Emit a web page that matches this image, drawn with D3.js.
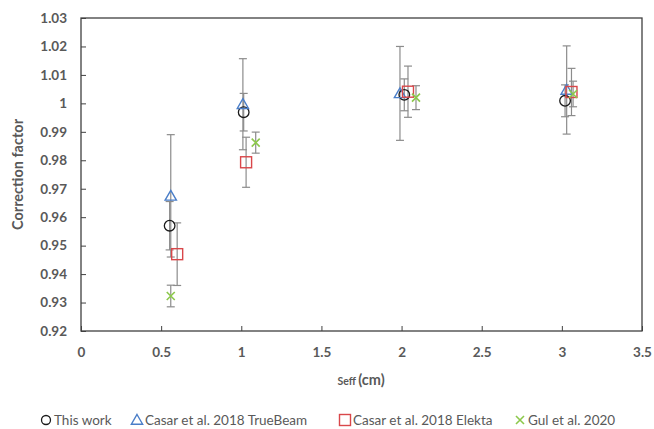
<!DOCTYPE html>
<html>
<head>
<meta charset="utf-8">
<script src="https://cdn.jsdelivr.net/npm/d3@7"></script>
<style>
  body { margin: 0; background: #fff; overflow: hidden; }
  svg { display: block; }
  text { font-family: Lato, "Open Sans", sans-serif; }
</style>
</head>
<body>
<svg id="chart" width="654" height="429"></svg>
<script>
// series data: x (Seff, cm), y (correction factor), e (± error)
var seriesNames = ["This work", "Casar et al. 2018 TrueBeam", "Casar et al. 2018 Elekta", "Gul et al. 2020"];
var thisWork  = [{x: 0.553, y: 0.957,  e: 0.0085}, {x: 1.015, y: 0.9969, e: 0.0066}, {x: 2.017, y: 1.003,  e: 0.0056}, {x: 3.02, y: 1.0009, e: 0.0056}];
var trueBeam  = [{x: 0.56,  y: 0.9675, e: 0.0215}, {x: 1.01,  y: 0.9997, e: 0.016},  {x: 1.99,  y: 1.0035, e: 0.0165}, {x: 3.03, y: 1.0047, e: 0.0155}];
var elekta    = [{x: 0.60,  y: 0.9470, e: 0.011},  {x: 1.03,  y: 0.9793, e: 0.0088}, {x: 2.04,  y: 1.0041, e: 0.009},  {x: 3.06, y: 1.0040, e: 0.0083}];
var gul       = [{x: 0.56,  y: 0.9323, e: 0.0038}, {x: 1.09,  y: 0.9862, e: 0.0037}, {x: 2.09,  y: 1.0020, e: 0.0042}, {x: 3.07, y: 1.0033, e: 0.0045}];
var xTicks = [0, 0.5, 1, 1.5, 2, 2.5, 3, 3.5];
var yTicks = [0.92, 0.93, 0.94, 0.95, 0.96, 0.97, 0.98, 0.99, 1, 1.01, 1.02, 1.03];

var svg = d3.select("#chart");
var pLeft = 81, pRight = 642, pTop = 18, pBottom = 331;
var x = d3.scaleLinear().domain([0, 3.5]).range([pLeft, pRight]);
var y = d3.scaleLinear().domain([0.92, 1.03]).range([pBottom, pTop]);
var grey = "#595959";

// frame
svg.append("rect").attr("x", pLeft).attr("y", pTop)
  .attr("width", pRight - pLeft).attr("height", pBottom - pTop)
  .attr("fill", "none").attr("stroke", "#404040").attr("stroke-width", 1.3);

// axes with inward ticks
var yAxis = svg.append("g").attr("transform", "translate(" + pLeft + ",0)")
  .call(d3.axisLeft(y).tickValues(yTicks).tickSize(-5).tickPadding(14)
    .tickFormat(function(d) { return String(+d.toFixed(2)); }));
var xAxis = svg.append("g").attr("transform", "translate(0," + pBottom + ")")
  .call(d3.axisBottom(x).tickValues(xTicks).tickSize(-5).tickPadding(16).tickFormat(d3.format("")));
[yAxis, xAxis].forEach(function(g) {
  g.select(".domain").remove();
  g.selectAll("line").attr("stroke", "#404040");
  g.selectAll("text").attr("fill", grey).style("font-size", "13.5px").style("font-weight", "bold");
});

// axis titles
svg.append("text").attr("transform", "translate(23," + ((pTop + pBottom) / 2) + ") rotate(-90)")
  .attr("text-anchor", "middle").attr("fill", grey)
  .style("font-size", "14.5px").style("font-weight", "bold").text("Correction factor");
var xt = svg.append("text").attr("x", 361).attr("y", 385)
  .attr("text-anchor", "middle").attr("fill", grey).style("font-weight", "bold");
xt.append("tspan").style("font-size", "10.5px").text("Seff ");
xt.append("tspan").style("font-size", "14.5px").text("(cm)");

var colors = ["#1a1a1a", "#4a7ec8", "#d9474a", "#8cc84b"];
var allSeries = [thisWork, trueBeam, elekta, gul];

function marker(g, i, cx, cy) {
  if (i === 0) {
    g.append("circle").attr("cx", cx).attr("cy", cy).attr("r", 5.3)
      .attr("fill", "none").attr("stroke", colors[0]).attr("stroke-width", 1.3);
  } else if (i === 1) {
    g.append("path").attr("d", d3.symbol(d3.symbolTriangle, 55)())
      .attr("transform", "translate(" + cx + "," + (cy + 1) + ")")
      .attr("fill", "none").attr("stroke", colors[1]).attr("stroke-width", 1.4);
  } else if (i === 2) {
    g.append("rect").attr("x", cx - 5.5).attr("y", cy - 5.5).attr("width", 11).attr("height", 11)
      .attr("fill", "none").attr("stroke", colors[2]).attr("stroke-width", 1.4);
  } else {
    g.append("path").attr("d", "M" + (cx - 4) + "," + (cy - 4) + "L" + (cx + 4) + "," + (cy + 4) +
      "M" + (cx - 4) + "," + (cy + 4) + "L" + (cx + 4) + "," + (cy - 4))
      .attr("stroke", colors[3]).attr("stroke-width", 1.6);
  }
}

// error bars first, then markers
var bars = svg.append("g");
allSeries.forEach(function(s) {
  s.forEach(function(d) {
    var cx = x(d.x), y1 = y(d.y + d.e), y2 = y(d.y - d.e);
    bars.append("line").attr("x1", cx).attr("x2", cx).attr("y1", y1).attr("y2", y2);
    bars.append("line").attr("x1", cx - 4).attr("x2", cx + 4).attr("y1", y1).attr("y2", y1);
    bars.append("line").attr("x1", cx - 4).attr("x2", cx + 4).attr("y1", y2).attr("y2", y2);
  });
});
bars.selectAll("line").attr("stroke", "#8c8c8c").attr("stroke-width", 1.2);

var marks = svg.append("g");
allSeries.forEach(function(s, i) {
  s.forEach(function(d) { marker(marks, i, x(d.x), y(d.y)); });
});

// legend
var legendX = [46, 137, 345, 520];
var lg = svg.append("g");
seriesNames.forEach(function(name, i) {
  marker(lg, i, legendX[i], 420);
  lg.append("text").attr("x", legendX[i] + 8).attr("y", 424.5).attr("fill", grey)
    .style("font-size", "13.5px").text(name);
});
lg.selectAll("circle").attr("r", 4.5);
</script>
</body>
</html>
